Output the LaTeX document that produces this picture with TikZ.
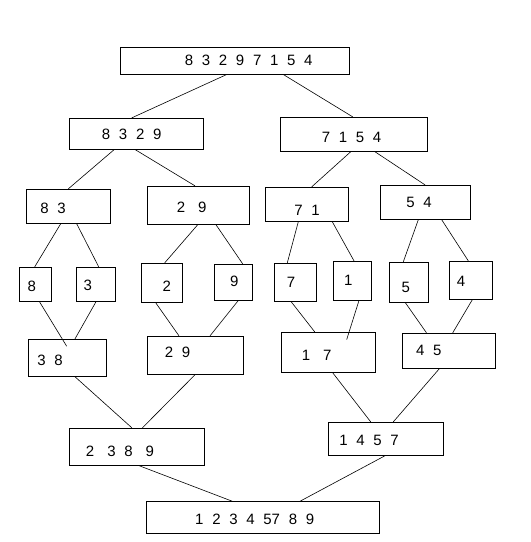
\documentclass[tikz,border=0pt]{standalone}
\usepackage{fontspec}
\setmainfont{Liberation Sans}
\usepackage{tikz}
\usetikzlibrary{positioning}
\newcommand{\widegap}{\hspace{13pt}}
\newcommand{\numfont}{\fontsize{15}{18}\selectfont\spaceskip=8.7pt\relax}

\begin{document}
\begin{tikzpicture}[
	x=1pt, y=-1pt,
	% boxes holding the lists
	box/.style={
			rectangle,
			draw=black,
			line width=0.9pt,
			inner sep=0pt
		},
	% thin lines between the lists
	link/.style={
			draw=black,
			line width=0.6pt
		},
	every label/.style={
			font=\numfont,
			inner sep=0pt
		}
	]

	\useasboundingbox (0,0) rectangle (531,542);

	% whole list
	\node[box, minimum width=229.3pt, minimum height=26.7pt, label={[xshift=14pt]center:8 3 2 9 7 1 5 4}] (all) at (234.7,60.7) {};

	% halves
	\node[box, minimum width=134pt, minimum height=30.7pt, label={[xshift=-4.3pt,yshift=-0.3pt]center:8 3 2 9}] (h8329) at (136,133.7) {};
	\node[box, minimum width=147.7pt, minimum height=34pt, label={[xshift=-2.3pt,yshift=-3pt]center:7 1 5 4}] (h7154) at (353.8,134.3) {};

	% quarters
	\node[box, minimum width=84pt, minimum height=34pt, label={[xshift=-15.7pt,yshift=-2pt]center:8 3}] (q83) at (68.7,206.3) {};
	\node[box, minimum width=101.6pt, minimum height=38pt, label={[xshift=-6.8pt,yshift=-2pt]center:2\widegap 9}] (q29) at (198.5,205.3) {};
	\node[box, minimum width=83.7pt, minimum height=34pt, label={[xshift=0.2pt,yshift=-5.7pt]center:7 1}] (q71) at (306.8,204.3) {};
	\node[box, minimum width=89.7pt, minimum height=34pt, label={[xshift=-6.2pt,yshift=-0.4pt]center:5 4}] (q54) at (425.2,202.3) {};

	% single items
	\node[box, minimum width=32.7pt, minimum height=34pt, label={[xshift=-3.6pt,yshift=-2.4pt]center:8}] (s8) at (35.3,284.3) {};
	\node[box, minimum width=39.7pt, minimum height=34pt, label={[xshift=-8.1pt,yshift=-0.7pt]center:3}] (s3) at (95.8,284.3) {};
	\node[box, minimum width=41.3pt, minimum height=39pt, label={[xshift=5pt,yshift=-3.2pt]center:2}] (s2) at (161.7,282.8) {};
	\node[box, minimum width=38.3pt, minimum height=36pt, label={[xshift=1.1pt,yshift=1.3pt]center:9}] (s9) at (233.2,282.3) {};
	\node[box, minimum width=42.3pt, minimum height=38pt, label={[xshift=-4.2pt,yshift=0.3pt]center:7}] (s7) at (295.2,282.3) {};
	\node[box, minimum width=38.3pt, minimum height=39pt, label={[xshift=-3.9pt,yshift=0.8pt]center:1}] (s1) at (352.2,280.8) {};
	\node[box, minimum width=39.3pt, minimum height=40pt, label={[xshift=-3pt,yshift=-5pt]center:5}] (s5) at (408.7,282.3) {};
	\node[box, minimum width=43pt, minimum height=38pt, label={[xshift=-9.8pt,yshift=-1.4pt]center:4}] (s4) at (470.8,280.3) {};

	% merged pairs
	\node[box, minimum width=78.7pt, minimum height=37pt, label={[xshift=-17.3pt,yshift=-2.5pt]center:3 8}] (m38) at (67.3,357.8) {};
	\node[box, minimum width=96.3pt, minimum height=38pt, label={[xshift=-17.7pt,yshift=2.6pt]center:2 9}] (m29) at (195.2,355.3) {};
	\node[box, minimum width=94.3pt, minimum height=40pt, label={[xshift=-11.5pt,yshift=-3.4pt]center:1\widegap 7}] (m17) at (328.2,352.3) {};
	\node[box, minimum width=93.3pt, minimum height=35pt, label={[xshift=-19.9pt,yshift=0.1pt]center:4 5}] (m45) at (448.7,350.8) {};

	% merged halves
	\node[box, minimum width=134.7pt, minimum height=37pt, label={[xshift=-16.7pt,yshift=-4.9pt]center:2\widegap 3 8\widegap 9}] (m2389) at (136.7,446.8) {};
	\node[box, minimum width=115pt, minimum height=33pt, label={[xshift=-16.8pt,yshift=-1.9pt]center:1 4 5 7}] (m1457) at (385.8,438.8) {};

	% sorted list
	\node[box, minimum width=233.3pt, minimum height=31.6pt, label={[xshift=-8pt,yshift=-1.5pt]center:1 2 3 4 57 8 9}] (sorted) at (262.7,517.5) {};

	% splitting
	\draw[link] ([xshift=-8pt]all.south) -- ([xshift=-4.3pt]h8329.north);
	\draw[link] ([xshift=48.6pt]all.south) -- ([xshift=-1.1pt]h7154.north);
	\draw[link] ([xshift=-21.7pt]h8329.south) -- ([xshift=-0.4pt]q83.north);
	\draw[link] ([xshift=-1pt]h8329.south) -- ([xshift=-3.5pt]q29.north);
	\draw[link] ([xshift=-3.1pt]h7154.south) -- ([xshift=4.9pt]q71.north);
	\draw[link] ([xshift=21.2pt]h7154.south) -- ([xshift=-0.2pt]q54.north);
	\draw[link] ([xshift=-8pt]q83.south) -- ([xshift=-0.6pt]s8.north);
	\draw[link] ([xshift=8pt]q83.south) -- ([xshift=2.9pt]s3.north);
	\draw[link] ([xshift=-0.8pt]q29.south) -- ([xshift=3pt]s2.north);
	\draw[link] ([xshift=17.5pt]q29.south) -- ([xshift=9.5pt]s9.north);
	\draw[link] ([xshift=-8.5pt]q71.south) -- ([xshift=-7.9pt]s7.north);
	\draw[link] ([xshift=25.5pt]q71.south) -- ([xshift=1.8pt]s1.north);
	\draw[link] ([xshift=-6.9pt]q54.south) -- ([xshift=-5.4pt]s5.north);
	\draw[link] ([xshift=16.5pt]q54.south) -- ([xshift=-2.5pt]s4.north);

	% merging
	\draw[link] ([xshift=4.2pt]s8.south) -- ([xshift=-0.6pt,yshift=-7.4pt]m38.north);
	\draw[link] ([xshift=0.2pt]s3.south) -- ([xshift=7.7pt]m38.north);
	\draw[link] ([xshift=-6pt]s2.south) -- ([xshift=-16.2pt]m29.north);
	\draw[link] ([xshift=4.9pt]s9.south) -- ([xshift=14.8pt]m29.north);
	\draw[link] ([xshift=-4pt]s7.south) -- ([xshift=-13.5pt]m17.north);
	\draw[link] ([xshift=6.7pt]s1.south) -- ([xshift=18.5pt,yshift=-7.7pt]m17.north);
	\draw[link] ([xshift=-3.3pt]s5.south) -- ([xshift=-22.2pt]m45.north);
	\draw[link] ([xshift=1.5pt]s4.south) -- ([xshift=4pt]m45.north);
	\draw[link] ([xshift=7.7pt]m38.south) -- ([xshift=-4.8pt]m2389.north);
	\draw[link] ([xshift=-0.2pt]m29.south) -- ([xshift=5.7pt]m2389.north);
	\draw[link] ([xshift=4.5pt]m17.south) -- ([xshift=-15.1pt]m1457.north);
	\draw[link] ([xshift=-9.4pt]m45.south) -- ([xshift=7.5pt]m1457.north);
	\draw[link] ([xshift=2.6pt]m2389.south) -- ([xshift=-30.4pt]sorted.north);
	\draw[link] ([xshift=-0.8pt]m1457.south) -- ([xshift=37.3pt]sorted.north);

\end{tikzpicture}
\end{document}
